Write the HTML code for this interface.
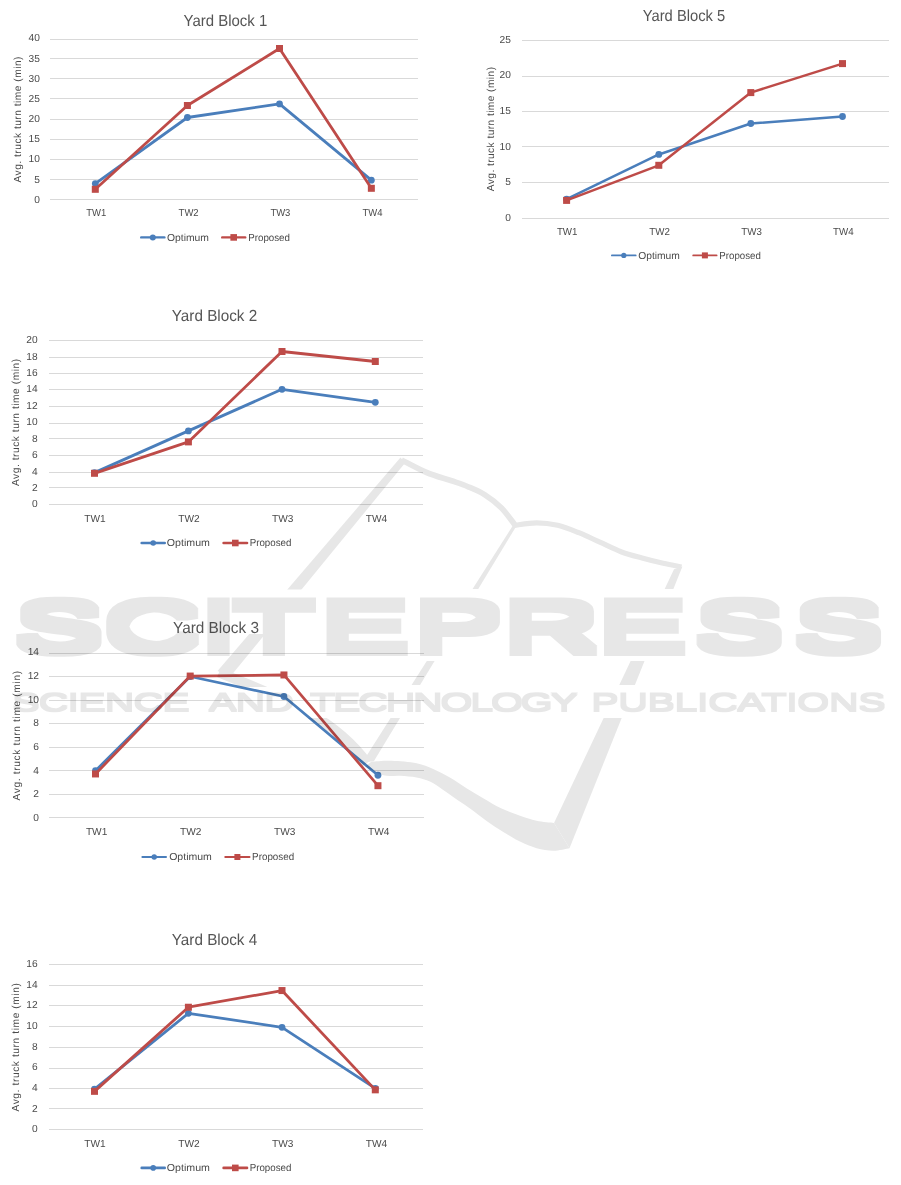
<!DOCTYPE html>
<html lang="en"><head><meta charset="utf-8"><title>Average truck turn time per yard block</title>
<style>html,body{margin:0;padding:0;background:#fff}svg{display:block;will-change:transform}text{font-family:"Liberation Sans",sans-serif;text-rendering:geometricPrecision}.l{font-size:10.2px;fill:#4a4a4a}.t{font-size:16px;fill:#555555}.g{stroke:#d9d9d9;stroke-width:1;fill:none;shape-rendering:crispEdges}.wm text{font-family:"Liberation Sans",sans-serif}</style></head><body>
<svg width="901" height="1185" viewBox="0 0 901 1185">
<g opacity="0.999">
<text class="t" x="225.4" y="25.8" text-anchor="middle" textLength="83.8" lengthAdjust="spacingAndGlyphs">Yard Block 1</text>
<path class="g" d="M50 39.5H418M50 58.5H418M50 78.5H418M50 98.5H418M50 119.5H418M50 139.5H418M50 159.5H418M50 179.5H418M50 199.5H418"/>
<text class="l" x="39.9" y="41.45" text-anchor="end">40</text>
<text class="l" x="39.9" y="61.61" text-anchor="end">35</text>
<text class="l" x="39.9" y="81.77" text-anchor="end">30</text>
<text class="l" x="39.9" y="101.94" text-anchor="end">25</text>
<text class="l" x="39.9" y="122.1" text-anchor="end">20</text>
<text class="l" x="39.9" y="142.26" text-anchor="end">15</text>
<text class="l" x="39.9" y="162.43" text-anchor="end">10</text>
<text class="l" x="39.9" y="182.59" text-anchor="end">5</text>
<text class="l" x="39.9" y="202.75" text-anchor="end">0</text>
<text class="l" x="86.3" y="216" textLength="20" lengthAdjust="spacingAndGlyphs">TW1</text>
<text class="l" x="178.6" y="216" textLength="20" lengthAdjust="spacingAndGlyphs">TW2</text>
<text class="l" x="270.4" y="216" textLength="20" lengthAdjust="spacingAndGlyphs">TW3</text>
<text class="l" x="362.5" y="216" textLength="20" lengthAdjust="spacingAndGlyphs">TW4</text>
<text class="l" transform="translate(20.7 119.5) rotate(-90)" text-anchor="middle" textLength="126" lengthAdjust="spacing">Avg. truck turn time (min)</text>
<polyline points="95.3,183.6 187.4,117.5 279.5,103.9 371.35,180.2" fill="none" stroke="#4a7ebb" stroke-width="2.8" stroke-linejoin="round" stroke-linecap="round"/>
<circle cx="95.3" cy="183.6" r="3.4" fill="#4a7ebb"/>
<circle cx="187.4" cy="117.5" r="3.4" fill="#4a7ebb"/>
<circle cx="279.5" cy="103.9" r="3.4" fill="#4a7ebb"/>
<circle cx="371.35" cy="180.2" r="3.4" fill="#4a7ebb"/>
<polyline points="95.3,189.3 187.4,105.5 279.5,48.5 371.35,188.3" fill="none" stroke="#be4b48" stroke-width="2.8" stroke-linejoin="round" stroke-linecap="round"/>
<rect x="91.8" y="185.8" width="7" height="7" fill="#be4b48"/>
<rect x="183.9" y="102" width="7" height="7" fill="#be4b48"/>
<rect x="276" y="45" width="7" height="7" fill="#be4b48"/>
<rect x="367.85" y="184.8" width="7" height="7" fill="#be4b48"/>
<path d="M141.2 237.4H164.4" stroke="#4a7ebb" stroke-width="2.4" stroke-linecap="round" fill="none"/>
<circle cx="152.8" cy="237.4" r="3" fill="#4a7ebb"/>
<text class="l" x="167" y="240.5" textLength="42" lengthAdjust="spacingAndGlyphs">Optimum</text>
<path d="M222.2 237.4H245.2" stroke="#be4b48" stroke-width="2.4" stroke-linecap="round" fill="none"/>
<rect x="230.4" y="234.1" width="6.6" height="6.6" fill="#be4b48"/>
<text class="l" x="248.2" y="240.5" textLength="41.8" lengthAdjust="spacingAndGlyphs">Proposed</text>
</g>
<g opacity="0.999">
<text class="t" x="684" y="20.6" text-anchor="middle" textLength="82.4" lengthAdjust="spacingAndGlyphs">Yard Block 5</text>
<path class="g" d="M521.5 40.5H889.4M521.5 76.5H889.4M521.5 111.5H889.4M521.5 146.5H889.4M521.5 182.5H889.4M521.5 218.5H889.4"/>
<text class="l" x="510.9" y="42.6" text-anchor="end">25</text>
<text class="l" x="510.9" y="78.31" text-anchor="end">20</text>
<text class="l" x="510.9" y="114.02" text-anchor="end">15</text>
<text class="l" x="510.9" y="149.73" text-anchor="end">10</text>
<text class="l" x="510.9" y="185.44" text-anchor="end">5</text>
<text class="l" x="510.9" y="221.15" text-anchor="end">0</text>
<text class="l" x="556.9" y="234.9" textLength="20.6" lengthAdjust="spacingAndGlyphs">TW1</text>
<text class="l" x="649.3" y="234.9" textLength="20.6" lengthAdjust="spacingAndGlyphs">TW2</text>
<text class="l" x="741.3" y="234.9" textLength="20.6" lengthAdjust="spacingAndGlyphs">TW3</text>
<text class="l" x="833" y="234.9" textLength="20.6" lengthAdjust="spacingAndGlyphs">TW4</text>
<text class="l" transform="translate(493.5 129.1) rotate(-90)" text-anchor="middle" textLength="124.3" lengthAdjust="spacing">Avg. truck turn time (min)</text>
<polyline points="566.6,199.2 658.8,154.45 750.8,123.5 842.5,116.5" fill="none" stroke="#4a7ebb" stroke-width="2.5" stroke-linejoin="round" stroke-linecap="round"/>
<circle cx="566.6" cy="199.2" r="3.4" fill="#4a7ebb"/>
<circle cx="658.8" cy="154.45" r="3.4" fill="#4a7ebb"/>
<circle cx="750.8" cy="123.5" r="3.4" fill="#4a7ebb"/>
<circle cx="842.5" cy="116.5" r="3.4" fill="#4a7ebb"/>
<polyline points="566.6,200.4 658.8,165.3 750.8,92.6 842.5,63.6" fill="none" stroke="#be4b48" stroke-width="2.5" stroke-linejoin="round" stroke-linecap="round"/>
<rect x="563.1" y="196.9" width="7" height="7" fill="#be4b48"/>
<rect x="655.3" y="161.8" width="7" height="7" fill="#be4b48"/>
<rect x="747.3" y="89.1" width="7" height="7" fill="#be4b48"/>
<rect x="839" y="60.1" width="7" height="7" fill="#be4b48"/>
<path d="M611.9 255.4H635.7" stroke="#4a7ebb" stroke-width="1.8" stroke-linecap="round" fill="none"/>
<circle cx="623.8" cy="255.4" r="2.6" fill="#4a7ebb"/>
<text class="l" x="638.2" y="258.5" textLength="41.7" lengthAdjust="spacingAndGlyphs">Optimum</text>
<path d="M693.2 255.4H716.6" stroke="#be4b48" stroke-width="1.8" stroke-linecap="round" fill="none"/>
<rect x="701.9" y="252.4" width="6" height="6" fill="#be4b48"/>
<text class="l" x="719.3" y="258.5" textLength="41.5" lengthAdjust="spacingAndGlyphs">Proposed</text>
</g>
<g opacity="0.999">
<text class="t" x="214.5" y="320.8" text-anchor="middle" textLength="85.4" lengthAdjust="spacingAndGlyphs">Yard Block 2</text>
<path class="g" d="M48.6 340.5H422.9M48.6 357.5H422.9M48.6 373.5H422.9M48.6 389.5H422.9M48.6 406.5H422.9M48.6 423.5H422.9M48.6 438.5H422.9M48.6 455.5H422.9M48.6 472.5H422.9M48.6 487.5H422.9M48.6 504.5H422.9"/>
<text class="l" x="37.6" y="343.25" text-anchor="end">20</text>
<text class="l" x="37.6" y="359.66" text-anchor="end">18</text>
<text class="l" x="37.6" y="376.07" text-anchor="end">16</text>
<text class="l" x="37.6" y="392.48" text-anchor="end">14</text>
<text class="l" x="37.6" y="408.89" text-anchor="end">12</text>
<text class="l" x="37.6" y="425.3" text-anchor="end">10</text>
<text class="l" x="37.6" y="441.71" text-anchor="end">8</text>
<text class="l" x="37.6" y="458.12" text-anchor="end">6</text>
<text class="l" x="37.6" y="474.53" text-anchor="end">4</text>
<text class="l" x="37.6" y="490.94" text-anchor="end">2</text>
<text class="l" x="37.6" y="507.35" text-anchor="end">0</text>
<text class="l" x="84.3" y="521.5" textLength="21.4" lengthAdjust="spacingAndGlyphs">TW1</text>
<text class="l" x="178.2" y="521.5" textLength="21.4" lengthAdjust="spacingAndGlyphs">TW2</text>
<text class="l" x="272" y="521.5" textLength="21.4" lengthAdjust="spacingAndGlyphs">TW3</text>
<text class="l" x="365.8" y="521.5" textLength="21.4" lengthAdjust="spacingAndGlyphs">TW4</text>
<text class="l" transform="translate(19.2 422.5) rotate(-90)" text-anchor="middle" textLength="127.2" lengthAdjust="spacing">Avg. truck turn time (min)</text>
<polyline points="94.5,472.6 188.4,430.9 282,389.3 375.3,402.3" fill="none" stroke="#4a7ebb" stroke-width="2.8" stroke-linejoin="round" stroke-linecap="round"/>
<circle cx="94.5" cy="472.6" r="3.4" fill="#4a7ebb"/>
<circle cx="188.4" cy="430.9" r="3.4" fill="#4a7ebb"/>
<circle cx="282" cy="389.3" r="3.4" fill="#4a7ebb"/>
<circle cx="375.3" cy="402.3" r="3.4" fill="#4a7ebb"/>
<polyline points="94.5,473.3 188.4,441.9 282,351.5 375.3,361.5" fill="none" stroke="#be4b48" stroke-width="2.8" stroke-linejoin="round" stroke-linecap="round"/>
<rect x="91" y="469.8" width="7" height="7" fill="#be4b48"/>
<rect x="184.9" y="438.4" width="7" height="7" fill="#be4b48"/>
<rect x="278.5" y="348" width="7" height="7" fill="#be4b48"/>
<rect x="371.8" y="358" width="7" height="7" fill="#be4b48"/>
<path d="M141.7 543H164.7" stroke="#4a7ebb" stroke-width="2.6" stroke-linecap="round" fill="none"/>
<circle cx="153.2" cy="543" r="2.8" fill="#4a7ebb"/>
<text class="l" x="166.8" y="546" textLength="43.1" lengthAdjust="spacingAndGlyphs">Optimum</text>
<path d="M223.6 543H247" stroke="#be4b48" stroke-width="2.6" stroke-linecap="round" fill="none"/>
<rect x="232" y="539.7" width="6.6" height="6.6" fill="#be4b48"/>
<text class="l" x="249.7" y="546" textLength="41.7" lengthAdjust="spacingAndGlyphs">Proposed</text>
</g>
<g opacity="0.999">
<text class="t" x="216" y="633" text-anchor="middle" textLength="85.9" lengthAdjust="spacingAndGlyphs">Yard Block 3</text>
<path class="g" d="M49.4 653.5H423.9M49.4 676.5H423.9M49.4 700.5H423.9M49.4 723.5H423.9M49.4 747.5H423.9M49.4 770.5H423.9M49.4 794.5H423.9M49.4 817.5H423.9"/>
<text class="l" x="39" y="655.25" text-anchor="end">14</text>
<text class="l" x="39" y="678.91" text-anchor="end">12</text>
<text class="l" x="39" y="702.56" text-anchor="end">10</text>
<text class="l" x="39" y="726.22" text-anchor="end">8</text>
<text class="l" x="39" y="749.88" text-anchor="end">6</text>
<text class="l" x="39" y="773.54" text-anchor="end">4</text>
<text class="l" x="39" y="797.19" text-anchor="end">2</text>
<text class="l" x="39" y="820.85" text-anchor="end">0</text>
<text class="l" x="85.9" y="835" textLength="21.4" lengthAdjust="spacingAndGlyphs">TW1</text>
<text class="l" x="179.95" y="835" textLength="21.4" lengthAdjust="spacingAndGlyphs">TW2</text>
<text class="l" x="274" y="835" textLength="21.4" lengthAdjust="spacingAndGlyphs">TW3</text>
<text class="l" x="368.1" y="835" textLength="21.4" lengthAdjust="spacingAndGlyphs">TW4</text>
<text class="l" transform="translate(20.2 735.7) rotate(-90)" text-anchor="middle" textLength="129.6" lengthAdjust="spacing">Avg. truck turn time (min)</text>
<polyline points="95.5,770.65 190.2,676.5 283.95,696.5 377.95,775.25" fill="none" stroke="#4a7ebb" stroke-width="2.7" stroke-linejoin="round" stroke-linecap="round"/>
<circle cx="95.5" cy="770.65" r="3.4" fill="#4a7ebb"/>
<circle cx="190.2" cy="676.5" r="3.4" fill="#4a7ebb"/>
<circle cx="283.95" cy="696.5" r="3.4" fill="#4a7ebb"/>
<circle cx="377.95" cy="775.25" r="3.4" fill="#4a7ebb"/>
<polyline points="95.5,773.95 190.2,676.06 283.95,674.96 377.95,785.7" fill="none" stroke="#be4b48" stroke-width="2.7" stroke-linejoin="round" stroke-linecap="round"/>
<rect x="92" y="770.45" width="7" height="7" fill="#be4b48"/>
<rect x="186.7" y="672.56" width="7" height="7" fill="#be4b48"/>
<rect x="280.45" y="671.46" width="7" height="7" fill="#be4b48"/>
<rect x="374.45" y="782.2" width="7" height="7" fill="#be4b48"/>
<path d="M142.3 857H166.1" stroke="#4a7ebb" stroke-width="1.8" stroke-linecap="round" fill="none"/>
<circle cx="154.2" cy="857" r="2.7" fill="#4a7ebb"/>
<text class="l" x="169.2" y="860" textLength="42.7" lengthAdjust="spacingAndGlyphs">Optimum</text>
<path d="M225.2 857H249.6" stroke="#be4b48" stroke-width="1.8" stroke-linecap="round" fill="none"/>
<rect x="234.4" y="854" width="6" height="6" fill="#be4b48"/>
<text class="l" x="252.1" y="860" textLength="42.1" lengthAdjust="spacingAndGlyphs">Proposed</text>
</g>
<g opacity="0.999">
<text class="t" x="214.5" y="945" text-anchor="middle" textLength="85.4" lengthAdjust="spacingAndGlyphs">Yard Block 4</text>
<path class="g" d="M48.6 964.5H422.9M48.6 985.5H422.9M48.6 1005.5H422.9M48.6 1026.5H422.9M48.6 1047.5H422.9M48.6 1068.5H422.9M48.6 1088.5H422.9M48.6 1108.5H422.9M48.6 1129.5H422.9"/>
<text class="l" x="37.6" y="967.15" text-anchor="end">16</text>
<text class="l" x="37.6" y="987.8" text-anchor="end">14</text>
<text class="l" x="37.6" y="1008.45" text-anchor="end">12</text>
<text class="l" x="37.6" y="1029.1" text-anchor="end">10</text>
<text class="l" x="37.6" y="1049.75" text-anchor="end">8</text>
<text class="l" x="37.6" y="1070.4" text-anchor="end">6</text>
<text class="l" x="37.6" y="1091.05" text-anchor="end">4</text>
<text class="l" x="37.6" y="1111.7" text-anchor="end">2</text>
<text class="l" x="37.6" y="1132.35" text-anchor="end">0</text>
<text class="l" x="84.3" y="1146.6" textLength="21.4" lengthAdjust="spacingAndGlyphs">TW1</text>
<text class="l" x="178.2" y="1146.6" textLength="21.4" lengthAdjust="spacingAndGlyphs">TW2</text>
<text class="l" x="272" y="1146.6" textLength="21.4" lengthAdjust="spacingAndGlyphs">TW3</text>
<text class="l" x="365.8" y="1146.6" textLength="21.4" lengthAdjust="spacingAndGlyphs">TW4</text>
<text class="l" transform="translate(19.2 1047.3) rotate(-90)" text-anchor="middle" textLength="128.5" lengthAdjust="spacing">Avg. truck turn time (min)</text>
<polyline points="94.5,1089.2 188.4,1013.3 282,1027.3 375.3,1088.4" fill="none" stroke="#4a7ebb" stroke-width="2.8" stroke-linejoin="round" stroke-linecap="round"/>
<circle cx="94.5" cy="1089.2" r="3.4" fill="#4a7ebb"/>
<circle cx="188.4" cy="1013.3" r="3.4" fill="#4a7ebb"/>
<circle cx="282" cy="1027.3" r="3.4" fill="#4a7ebb"/>
<circle cx="375.3" cy="1088.4" r="3.4" fill="#4a7ebb"/>
<polyline points="94.5,1091.34 188.4,1007.24 282,990.56 375.3,1089.84" fill="none" stroke="#be4b48" stroke-width="2.8" stroke-linejoin="round" stroke-linecap="round"/>
<rect x="91" y="1087.84" width="7" height="7" fill="#be4b48"/>
<rect x="184.9" y="1003.74" width="7" height="7" fill="#be4b48"/>
<rect x="278.5" y="987.06" width="7" height="7" fill="#be4b48"/>
<rect x="371.8" y="1086.34" width="7" height="7" fill="#be4b48"/>
<path d="M141.7 1167.9H164.7" stroke="#4a7ebb" stroke-width="2.6" stroke-linecap="round" fill="none"/>
<circle cx="153.2" cy="1167.9" r="2.8" fill="#4a7ebb"/>
<text class="l" x="166.8" y="1171.3" textLength="43.1" lengthAdjust="spacingAndGlyphs">Optimum</text>
<path d="M223.6 1167.9H247" stroke="#be4b48" stroke-width="2.6" stroke-linecap="round" fill="none"/>
<rect x="232" y="1164.6" width="6.6" height="6.6" fill="#be4b48"/>
<text class="l" x="249.7" y="1171.3" textLength="41.7" lengthAdjust="spacingAndGlyphs">Proposed</text>
</g>
<g class="wm" opacity="0.096" fill="#000" stroke="none">
<defs><clipPath id="cl"><path d="M0 0H901V589H0ZM0 661H901V685H0ZM0 718H901V1185H0Z"/></clipPath><clipPath id="cl2"><path d="M0 0H901V589.5H0ZM0 634H901V687H0ZM0 718H901V1185H0Z"/></clipPath></defs>
<g clip-path="url(#cl2)">
<path d="M400.5 457.5L405 463L230.4 676.5L217.5 671Z"/>
<path d="M219 672.5C274 695.3 332.2 714.6 367 763" stroke="#000" stroke-width="10" fill="none"/>
</g>
<g clip-path="url(#cl)">
<path d="M401.6 460C405.77 462.08 418.27 469.03 426.6 472.5C434.93 475.97 444.67 478.42 451.6 480.8C458.53 483.18 462.65 484.45 468.2 486.8C473.75 489.15 479.35 491.38 484.9 494.9C490.45 498.42 496.5 502.9 501.5 507.9C506.5 512.9 512.67 522.07 514.9 524.9" stroke="#000" stroke-width="5.7" fill="none"/>
<path d="M514.5 525.3C518.18 524.88 529.4 522.8 536.6 522.8C543.8 522.8 550.67 523.65 557.7 525.3C564.73 526.95 571.77 529.88 578.8 532.7C585.83 535.52 592.87 539.03 599.9 542.2C606.93 545.37 613.98 549.07 621 551.7C628.02 554.33 634.97 556.07 642 558C649.03 559.93 656.62 561.8 663.2 563.3C669.78 564.8 678.45 566.38 681.5 567" stroke="#000" stroke-width="5.2" fill="none"/>
<path d="M513.2 525L517 525L374 761L362 763Z"/>
<path d="M682.4 566.5L674 569.2L554 823L569.5 848.2Z"/>
<path d="M371.6 761.6C374.93 761.47 384.1 760.52 391.6 760.8C399.1 761.08 409.67 761.92 416.6 763.3C423.53 764.68 427.65 766.73 433.2 769.1C438.75 771.47 444.35 774.3 449.9 777.5C455.45 780.7 460.95 784.83 466.5 788.3C472.05 791.77 477.45 794.97 483.2 798.3C488.95 801.63 494.87 805.38 501 808.3C507.13 811.22 514.07 813.72 520 815.8C525.93 817.88 530.93 819.6 536.6 820.8C542.27 822 551.1 822.63 554 823L569.5 848.2C566.78 848.62 558.68 850.7 553.2 850.7C547.72 850.7 542.13 849.72 536.6 848.2C531.07 846.68 525.55 844.3 520 841.6C514.45 838.9 508.87 835.43 503.3 832C497.73 828.57 492.15 824.92 486.6 821C481.05 817.08 474.73 811.92 470 808.5C465.27 805.08 462.67 803.58 458.2 800.5C453.73 797.42 447.9 793.15 443.2 790C438.5 786.85 434.43 783.68 430 781.6C425.57 779.52 421.6 778.47 416.6 777.5C411.6 776.53 405.55 776.17 400 775.8C394.45 775.43 389.13 776.83 383.3 775.3C377.47 773.77 368.05 768.05 365 766.6Z"/>
</g>
<filter id="fat" filterUnits="userSpaceOnUse" x="0" y="570" width="901" height="110"><feMorphology operator="dilate" radius="5 5"/></filter>
<filter id="fat2" filterUnits="userSpaceOnUse" x="0" y="680" width="901" height="45"><feMorphology operator="dilate" radius="1 1"/></filter>
<g filter="url(#fat)"><text font-size="70.5" y="650.5" transform="scale(1.8638 1)" x="7.99 56.13 107.38 125.37 172.15 222.24 270.25 321.04 373.05 426.32">SCITEPRESS</text></g>
<g filter="url(#fat2)"><text font-size="25.4" y="710.6" transform="scale(1.6142 1)"><tspan x="7.52" letter-spacing="-0.478">SCIENCE</tspan> <tspan x="129.43" letter-spacing="-0.471">AND</tspan> <tspan x="192.1" letter-spacing="-1.323">TECHNOLOGY</tspan> <tspan x="366.22" letter-spacing="-0.179">PUBLICATIONS</tspan></text></g>
</g>
</svg></body></html>
